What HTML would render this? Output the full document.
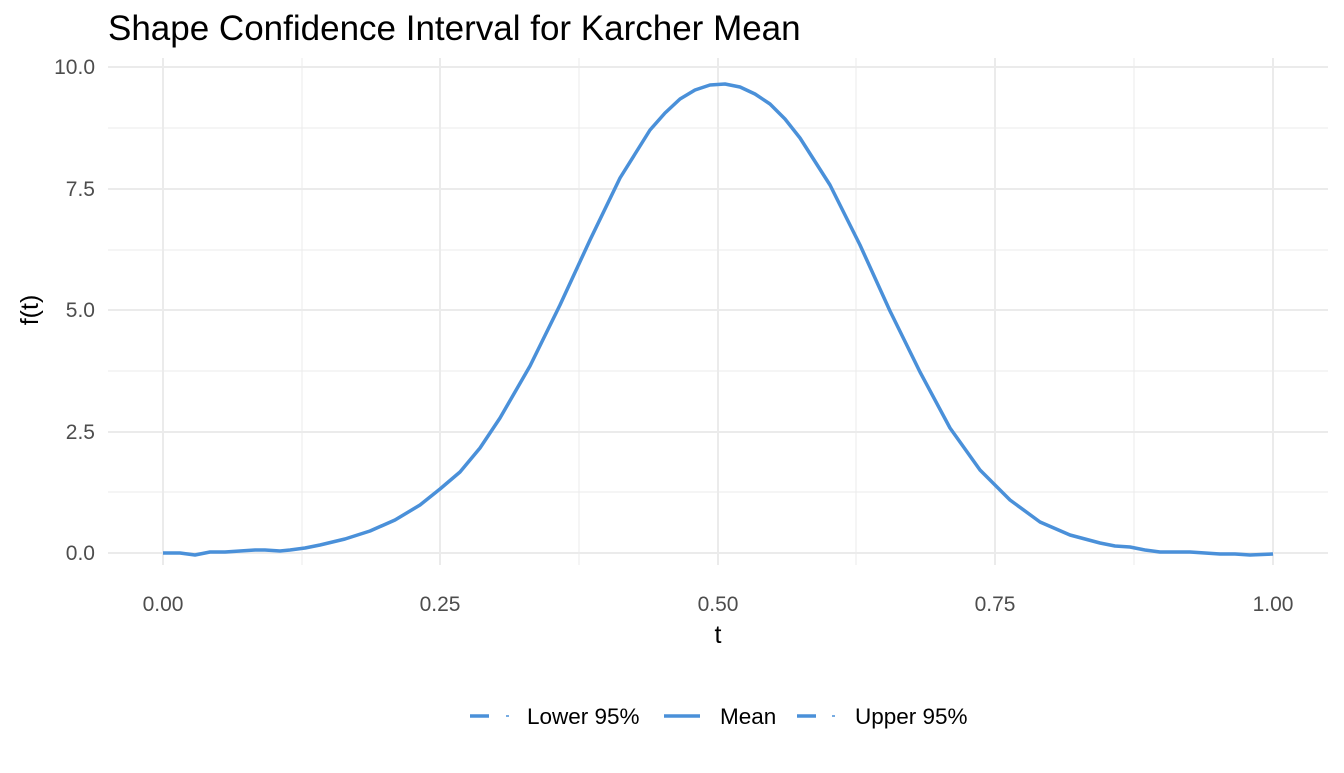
<!DOCTYPE html>
<html><head><style>
body{margin:0;background:#fff;}
svg text{font-family:"Liberation Sans",sans-serif;}
</style></head><body>
<svg width="1344" height="768" xmlns="http://www.w3.org/2000/svg">
<rect width="1344" height="768" fill="#fff"/>
<g stroke="#ebebeb" stroke-width="1">
<line x1="108" x2="1328" y1="492" y2="492"/><line x1="108" x2="1328" y1="371" y2="371"/>
<line x1="108" x2="1328" y1="250" y2="250"/><line x1="108" x2="1328" y1="128" y2="128"/>
<line y1="58" y2="565" x1="302" x2="302"/><line y1="58" y2="565" x1="579" x2="579"/>
<line y1="58" y2="565" x1="856" x2="856"/><line y1="58" y2="565" x1="1134" x2="1134"/>
</g>
<g stroke="#ebebeb" stroke-width="2">
<line x1="108" x2="1328" y1="553" y2="553"/><line x1="108" x2="1328" y1="432" y2="432"/>
<line x1="108" x2="1328" y1="310" y2="310"/><line x1="108" x2="1328" y1="189" y2="189"/>
<line x1="108" x2="1328" y1="67" y2="67"/>
<line y1="58" y2="565" x1="163" x2="163"/><line y1="58" y2="565" x1="440" x2="440"/>
<line y1="58" y2="565" x1="718" x2="718"/><line y1="58" y2="565" x1="995" x2="995"/>
<line y1="58" y2="565" x1="1273" x2="1273"/>
</g>
<polyline fill="none" stroke="#4a90d9" stroke-width="3.5" stroke-linejoin="round" points="163,553 180,553 195,555 210,552 225,552 240,551 255,550 265,550 280,551 290,550 305,548 320,545 345,539 370,531 395,520 420,505 440,489 460,472 480,448 500,418 530,366 560,305 590,240 620,178 650,130 665,113 680,99 695,90 710,85 725,84 740,87 755,94 770,104 785,119 800,138 830,185 860,245 890,311 920,372 950,428 980,470 1010,500 1040,522 1070,535 1100,543 1115,546 1130,547 1145,550 1160,552 1175,552 1190,552 1205,553 1220,554 1235,554 1250,555 1273,554"/>
<g fill="#4d4d4d" font-size="21" text-anchor="end">
<text x="95" y="560">0.0</text><text x="95" y="439">2.5</text><text x="95" y="317">5.0</text>
<text x="95" y="196">7.5</text><text x="95" y="74">10.0</text>
</g>
<g fill="#4d4d4d" font-size="21" text-anchor="middle">
<text x="163" y="611">0.00</text><text x="440" y="611">0.25</text><text x="718" y="611">0.50</text>
<text x="995" y="611">0.75</text><text x="1273" y="611">1.00</text>
</g>
<text x="718" y="643" font-size="25" text-anchor="middle" fill="#000">t</text>
<text transform="translate(38,310) rotate(-90)" font-size="25" text-anchor="middle" fill="#000">f(t)</text>
<text x="108" y="40" font-size="35" fill="#000">Shape Confidence Interval for Karcher Mean</text>
<g stroke="#4a90d9" stroke-width="3.5">
<line x1="470" x2="489" y1="716" y2="716"/><line x1="506" x2="509" y1="716" y2="716" stroke-width="1.5"/>
<line x1="664" x2="700" y1="716" y2="716"/>
<line x1="797" x2="816" y1="716" y2="716"/><line x1="832" x2="835" y1="716" y2="716" stroke-width="1.5"/>
</g>
<g font-size="22.5" fill="#000">
<text x="527" y="724">Lower 95%</text><text x="720" y="724">Mean</text><text x="855" y="724">Upper 95%</text>
</g>
</svg>
</body></html>
